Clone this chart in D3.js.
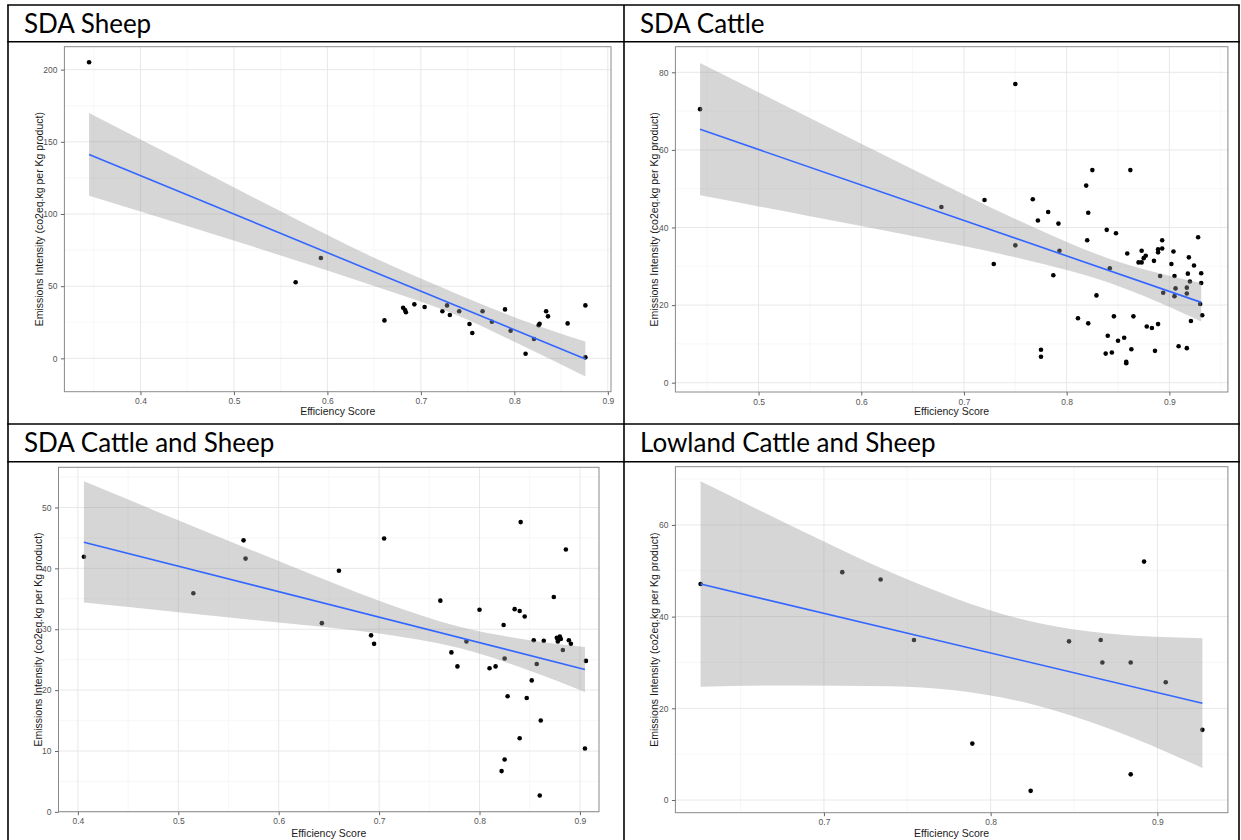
<!DOCTYPE html>
<html>
<head>
<meta charset="utf-8">
<script src="https://cdn.jsdelivr.net/npm/d3@7"></script>
<style>
	body { margin: 0; background: #fff; }
	svg { display: block; }
	.cell-title { font-family: Lato, "Noto Sans", sans-serif; font-size: 26px; fill: #000; }
	.axis text { font-family: "Liberation Sans", Arial, sans-serif; font-size: 8.5px; fill: #555; }
	.axis line { stroke: #666; }
	.axis path { display: none; }
	.axis-title { font-family: "Liberation Sans", Arial, sans-serif; font-size: 10.5px; fill: #1a1a1a; }
</style>
</head>
<body>
<svg id="figure" width="1241" height="840"></svg>
<script>
// Efficiency score vs emissions intensity

// SDA Sheep
let sheepEff = [0.345, 0.566, 0.593, 0.661, 0.681, 0.683, 0.684, 0.693, 0.704, 0.723, 0.728, 0.731, 0.741, 0.752,
	0.755, 0.766, 0.776, 0.790, 0.796, 0.812, 0.821, 0.826, 0.827, 0.834, 0.836, 0.857, 0.876, 0.876];
let sheepEmis = [205.1, 52.7, 69.5, 26.3, 35.1, 33.5, 31.9, 37.4, 35.6, 32.6, 36.7, 30.0, 32.6, 23.8,
	17.6, 32.6, 25.4, 33.9, 19.2, 3.2, 13.4, 22.9, 24.0, 32.6, 29.1, 24.2, 36.7, 0.7];

// SDA Cattle
let cattleEff = [0.443, 0.750, 0.678, 0.720, 0.729, 0.750, 0.767, 0.772, 0.782, 0.775, 0.775, 0.787, 0.792, 0.793,
	0.811, 0.819, 0.821, 0.820, 0.821, 0.825, 0.829, 0.839, 0.840, 0.838, 0.842, 0.844, 0.846, 0.848, 0.850,
	0.856, 0.859, 0.858, 0.858, 0.862, 0.863, 0.865, 0.870, 0.873, 0.873, 0.875, 0.877, 0.878, 0.883, 0.885,
	0.886, 0.889, 0.889, 0.889, 0.891, 0.893, 0.893, 0.894, 0.904, 0.902, 0.905, 0.906, 0.905, 0.909, 0.917,
	0.917, 0.917, 0.918, 0.919, 0.920, 0.921, 0.924, 0.928, 0.930, 0.931, 0.931, 0.932];
let cattleEmis = [70.5, 77.0, 45.3, 47.1, 30.6, 35.4, 47.3, 41.8, 44.0, 8.5, 6.7, 27.7, 41.0, 34.0,
	16.6, 50.8, 43.8, 36.7, 15.3, 54.8, 22.5, 39.4, 12.1, 7.5, 29.5, 7.8, 17.1, 38.5, 10.8,
	11.6, 33.3, 5.4, 5.0, 54.8, 8.6, 17.1, 31.0, 34.0, 31.0, 32.1, 32.7, 14.5, 14.1, 31.4,
	8.2, 15.1, 34.4, 33.6, 27.5, 36.7, 34.6, 23.2, 33.8, 30.6, 27.5, 24.3, 22.3, 9.4, 8.9,
	24.5, 23.0, 28.1, 32.3, 26.1, 15.9, 30.2, 37.5, 20.3, 28.2, 25.7, 17.4];

// SDA Cattle and Sheep
let mixedEff = [0.406, 0.515, 0.565, 0.567, 0.643, 0.660, 0.692, 0.695, 0.705, 0.761, 0.772, 0.778, 0.787, 0.800,
	0.810, 0.816, 0.822, 0.824, 0.825, 0.825, 0.828, 0.835, 0.840, 0.840, 0.841, 0.845, 0.847, 0.852, 0.854,
	0.857, 0.860, 0.864, 0.861, 0.874, 0.877, 0.878, 0.880, 0.881, 0.878, 0.883, 0.886, 0.889, 0.891, 0.905, 0.906];
let mixedEmis = [41.9, 35.9, 44.6, 41.6, 31.0, 39.6, 29.0, 27.6, 44.9, 34.7, 26.2, 23.9, 28.0, 33.2,
	23.6, 23.9, 6.7, 30.7, 25.2, 8.6, 19.0, 33.3, 33.0, 12.1, 47.6, 32.1, 18.7, 21.6, 28.2,
	24.3, 2.7, 28.1, 15.0, 35.3, 28.6, 28.3, 28.8, 28.4, 28.0, 26.6, 43.1, 28.2, 27.6, 10.4, 24.8];

// Lowland Cattle and Sheep
let lowlandEff = [0.626, 0.711, 0.734, 0.754, 0.789, 0.824, 0.847, 0.866, 0.867, 0.884, 0.884, 0.892, 0.905, 0.927];
let lowlandEmis = [47.1, 49.7, 48.1, 34.9, 12.3, 2.0, 34.6, 34.9, 30.0, 30.0, 5.6, 52.0, 25.7, 15.3];

// lm fit (end points) and the grey 95% band, read at a few x positions
let sheepFitX = [0.345, 0.876];
let sheepFitY = [141.3, -0.5];
let sheepBandX = [0.345, 0.45, 0.55, 0.65, 0.74, 0.81, 0.876];
let sheepBandLo = [112.6, 91.7, 71.3, 50.1, 29.5, 8.3, -12.6];
let sheepBandHi = [170.0, 135.1, 101.9, 69.7, 44.3, 26.1, 11.6];

let cattleFitX = [0.443, 0.931];
let cattleFitY = [65.3, 20.7];
let cattleBandX = [0.443, 0.55, 0.65, 0.75, 0.84, 0.931];
let cattleBandLo = [48.3, 42.9, 37.8, 32.3, 25.9, 15.8];
let cattleBandHi = [82.4, 68.2, 55.0, 42.2, 32.1, 25.7];

let mixedFitX = [0.406, 0.905];
let mixedFitY = [44.3, 23.4];
let mixedBandX = [0.406, 0.5, 0.6, 0.7, 0.78, 0.85, 0.905];
let mixedBandLo = [34.4, 32.8, 31.1, 29.3, 26.9, 23.2, 19.7];
let mixedBandHi = [54.3, 47.9, 41.2, 34.7, 30.4, 28.2, 27.1];

let lowlandFitX = [0.626, 0.927];
let lowlandFitY = [47.1, 21.1];
let lowlandBandX = [0.626, 0.68, 0.74, 0.8225, 0.87, 0.927];
let lowlandBandLo = [24.7, 25.0, 24.8, 21.1, 15.7, 7.0];
let lowlandBandHi = [69.5, 59.9, 49.7, 39.1, 36.3, 35.3];

// axis breaks and limits
let sheepXTicks = [0.4, 0.5, 0.6, 0.7, 0.8, 0.9];
let sheepYTicks = [0, 50, 100, 150, 200];
let sheepXDomain = [0.3186, 0.9034];
let sheepYDomain = [-23.1, 215.9];

let cattleXTicks = [0.5, 0.6, 0.7, 0.8, 0.9];
let cattleYTicks = [0, 20, 40, 60, 80];
let cattleXDomain = [0.419, 0.957];
let cattleYDomain = [-2.4, 86.6];

let mixedXTicks = [0.4, 0.5, 0.6, 0.7, 0.8, 0.9];
let mixedYTicks = [0, 10, 20, 30, 40, 50];
let mixedXDomain = [0.3807, 0.919];
let mixedYDomain = [0.03, 56.6];

let lowlandXTicks = [0.7, 0.8, 0.9];
let lowlandYTicks = [0, 20, 40, 60];
let lowlandXDomain = [0.6109, 0.9423];
let lowlandYDomain = [-2.77, 72.7];

let panelTitles = ["SDA Sheep", "SDA Cattle", "SDA Cattle and Sheep", "Lowland Cattle and Sheep"];
let xAxisTitle = "Efficiency Score";
let yAxisTitle = "Emissions Intensity (co2eq.kg per Kg product)";


class ScatterPanel {
	constructor(svg, opts)
	{
		this.svg = svg;
		this.opts = opts;

		this.draw();
	}

	// ggplot puts minor breaks half way between the major ones
	minorBreaks(ticks, domain)
	{
		let step = ticks[1] - ticks[0];
		let out = [];
		for (let i = -1; i < ticks.length; i++) {
			let v = ticks[0] + step * (i + 0.5);
			if (v > domain[0] && v < domain[1]) out.push(v);
		}
		return out;
	}

	draw()
	{
		let o = this.opts;
		let g = this.svg.append('g').attr('class', 'panel');

		let x = d3.scaleLinear().domain(o.xDomain).range([o.left, o.right]);
		let y = d3.scaleLinear().domain(o.yDomain).range([o.bottom, o.top]);

		//grid, minor first
		let grid = g.append('g');
		grid.selectAll('line.minor-x')
			.data(this.minorBreaks(o.xTicks, o.xDomain))
			.join('line')
			.attr('x1', d => x(d)).attr('x2', d => x(d))
			.attr('y1', o.top).attr('y2', o.bottom)
			.attr('stroke', '#f3f3f3').attr('stroke-width', 0.7);
		grid.selectAll('line.minor-y')
			.data(this.minorBreaks(o.yTicks, o.yDomain))
			.join('line')
			.attr('x1', o.left).attr('x2', o.right)
			.attr('y1', d => y(d)).attr('y2', d => y(d))
			.attr('stroke', '#f3f3f3').attr('stroke-width', 0.7);
		grid.selectAll('line.major-x')
			.data(o.xTicks)
			.join('line')
			.attr('x1', d => x(d)).attr('x2', d => x(d))
			.attr('y1', o.top).attr('y2', o.bottom)
			.attr('stroke', '#e8e8e8').attr('stroke-width', 1);
		grid.selectAll('line.major-y')
			.data(o.yTicks)
			.join('line')
			.attr('x1', o.left).attr('x2', o.right)
			.attr('y1', d => y(d)).attr('y2', d => y(d))
			.attr('stroke', '#e8e8e8').attr('stroke-width', 1);

		//points go under the smooth, like geom_point + geom_smooth
		let pts = o.xs.map((d, i) => [d, o.ys[i]]);
		g.append('g')
			.selectAll('circle')
			.data(pts)
			.join('circle')
			.attr('cx', d => x(d[0]))
			.attr('cy', d => y(d[1]))
			.attr('r', 2.3)
			.attr('fill', '#000');

		let band = o.bandX.map((d, i) => [d, o.bandLo[i], o.bandHi[i]]);
		let area = d3.area()
			.x(d => x(d[0]))
			.y0(d => y(d[1]))
			.y1(d => y(d[2]))
			.curve(d3.curveMonotoneX);
		g.append('path')
			.datum(band)
			.attr('d', area)
			.attr('fill', '#999999')
			.attr('fill-opacity', 0.4);

		let fit = o.fitX.map((d, i) => [d, o.fitY[i]]);
		g.append('path')
			.datum(fit)
			.attr('d', d3.line().x(d => x(d[0])).y(d => y(d[1])))
			.attr('fill', 'none')
			.attr('stroke', '#3366FF')
			.attr('stroke-width', 1.6);

		//border
		g.append('rect')
			.attr('x', o.left).attr('y', o.top)
			.attr('width', o.right - o.left)
			.attr('height', o.bottom - o.top)
			.attr('fill', 'none')
			.attr('stroke', '#8a8a8a')
			.attr('stroke-width', 1);

		//axes
		g.append('g')
			.attr('class', 'axis')
			.attr('transform', `translate(0,${o.bottom})`)
			.call(d3.axisBottom(x).tickValues(o.xTicks).tickSize(3.5).tickPadding(3).tickFormat(d3.format('~g')));
		g.append('g')
			.attr('class', 'axis')
			.attr('transform', `translate(${o.left},0)`)
			.call(d3.axisLeft(y).tickValues(o.yTicks).tickSize(3.5).tickPadding(3.5).tickFormat(d3.format('~g')));

		g.append('text')
			.attr('class', 'axis-title')
			.attr('x', (o.left + o.right) / 2)
			.attr('y', o.xTitleY)
			.attr('text-anchor', 'middle')
			.text(xAxisTitle);
		g.append('text')
			.attr('class', 'axis-title')
			.attr('transform', `translate(${o.left - o.yTitleOff},${(o.top + o.bottom) / 2}) rotate(-90)`)
			.attr('text-anchor', 'middle')
			.attr('dominant-baseline', 'central')
			.text(yAxisTitle);
	}
}


let svg = d3.select('#figure');

//word-style table that holds the four plots
let tableX = [8, 624, 1239];
let tableY = [5, 41.7, 424, 461.7];
let table = svg.append('g').attr('class', 'table');
table.selectAll('line.h')
	.data(tableY)
	.join('line')
	.attr('x1', tableX[0] - 0.8).attr('x2', tableX[2] + 0.8)
	.attr('y1', d => d).attr('y2', d => d)
	.attr('stroke', '#000').attr('stroke-width', 1.6);
table.selectAll('line.v')
	.data(tableX)
	.join('line')
	.attr('x1', d => d).attr('x2', d => d)
	.attr('y1', tableY[0]).attr('y2', 840)
	.attr('stroke', '#000').attr('stroke-width', 1.6);

let titlePos = [[24, 33.3], [640, 33.3], [24, 452.3], [640, 452.3]];
table.selectAll('text.cell-title')
	.data(panelTitles)
	.join('text')
	.attr('class', 'cell-title')
	.attr('x', (d, i) => titlePos[i][0])
	.attr('y', (d, i) => titlePos[i][1])
	.text(d => d);

new ScatterPanel(svg, {
	xs: sheepEff, ys: sheepEmis,
	fitX: sheepFitX, fitY: sheepFitY,
	bandX: sheepBandX, bandLo: sheepBandLo, bandHi: sheepBandHi,
	xTicks: sheepXTicks, yTicks: sheepYTicks, xDomain: sheepXDomain, yDomain: sheepYDomain,
	left: 64.4, right: 611, top: 46.7, bottom: 391.7, xTitleY: 414.7, yTitleOff: 25
});
new ScatterPanel(svg, {
	xs: cattleEff, ys: cattleEmis,
	fitX: cattleFitX, fitY: cattleFitY,
	bandX: cattleBandX, bandLo: cattleBandLo, bandHi: cattleBandHi,
	xTicks: cattleXTicks, yTicks: cattleYTicks, xDomain: cattleXDomain, yDomain: cattleYDomain,
	left: 675.4, right: 1227.9, top: 46.7, bottom: 392, xTitleY: 414.7, yTitleOff: 21
});
new ScatterPanel(svg, {
	xs: mixedEff, ys: mixedEmis,
	fitX: mixedFitX, fitY: mixedFitY,
	bandX: mixedBandX, bandLo: mixedBandLo, bandHi: mixedBandHi,
	xTicks: mixedXTicks, yTicks: mixedYTicks, xDomain: mixedXDomain, yDomain: mixedYDomain,
	left: 58.5, right: 599, top: 467.3, bottom: 811.7, xTitleY: 836.7, yTitleOff: 21
});
new ScatterPanel(svg, {
	xs: lowlandEff, ys: lowlandEmis,
	fitX: lowlandFitX, fitY: lowlandFitY,
	bandX: lowlandBandX, bandLo: lowlandBandLo, bandHi: lowlandBandHi,
	xTicks: lowlandXTicks, yTicks: lowlandYTicks, xDomain: lowlandXDomain, yDomain: lowlandYDomain,
	left: 675.4, right: 1227.9, top: 466.7, bottom: 812.7, xTitleY: 836.7, yTitleOff: 21
});
</script>
</body>
</html>
